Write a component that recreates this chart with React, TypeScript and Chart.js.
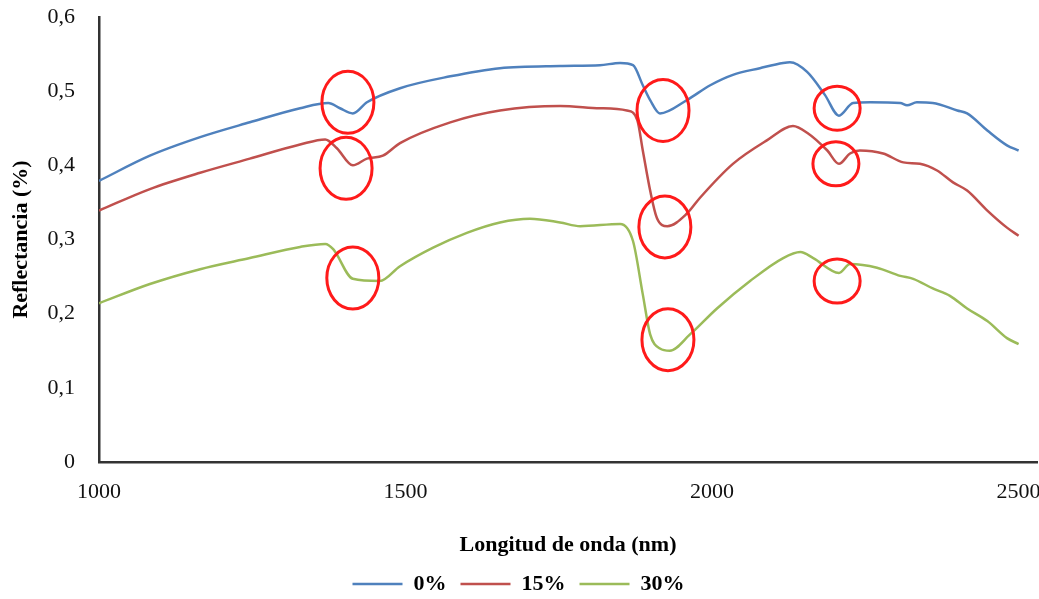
import React, { useEffect, useRef } from "react";
import { Chart, registerables } from "chart.js";

Chart.register(...registerables);

// Wavelength (nm) sample positions for each series
const blueX = [1000, 1083, 1165, 1246, 1328, 1374, 1393, 1414, 1437, 1491, 1573, 1654, 1752, 1817, 1850, 1871, 1887, 1899, 1915, 1959, 1997, 2034, 2078, 2116, 2127, 2155, 2184, 2207, 2230, 2258, 2307, 2318, 2334, 2360, 2400, 2416, 2449, 2481, 2500];
const blueY = [0.379, 0.413, 0.438, 0.458, 0.477, 0.484, 0.477, 0.470, 0.485, 0.504, 0.520, 0.531, 0.534, 0.535, 0.538, 0.535, 0.508, 0.488, 0.470, 0.488, 0.508, 0.522, 0.531, 0.538, 0.539, 0.526, 0.495, 0.467, 0.484, 0.485, 0.484, 0.481, 0.485, 0.484, 0.474, 0.470, 0.447, 0.427, 0.420];

const redX = [1000, 1083, 1165, 1246, 1328, 1369, 1388, 1414, 1437, 1463, 1491, 1573, 1654, 1752, 1817, 1861, 1878, 1887, 1899, 1910, 1927, 1959, 1980, 2034, 2090, 2132, 2155, 2188, 2207, 2225, 2241, 2279, 2312, 2339, 2367, 2393, 2416, 2449, 2481, 2500];
const redY = [0.339, 0.368, 0.390, 0.409, 0.428, 0.435, 0.423, 0.400, 0.409, 0.413, 0.430, 0.458, 0.474, 0.480, 0.477, 0.474, 0.461, 0.420, 0.366, 0.329, 0.318, 0.335, 0.356, 0.402, 0.434, 0.453, 0.444, 0.420, 0.402, 0.416, 0.420, 0.416, 0.404, 0.402, 0.393, 0.377, 0.366, 0.339, 0.316, 0.305];

const greenX = [1000, 1083, 1165, 1246, 1328, 1369, 1382, 1414, 1458, 1491, 1545, 1600, 1654, 1703, 1752, 1785, 1850, 1871, 1887, 1899, 1915, 1931, 1964, 2008, 2062, 2116, 2144, 2165, 2207, 2225, 2269, 2307, 2328, 2360, 2388, 2416, 2449, 2481, 2500];
const greenY = [0.214, 0.240, 0.260, 0.275, 0.290, 0.294, 0.287, 0.247, 0.244, 0.264, 0.289, 0.309, 0.323, 0.328, 0.323, 0.318, 0.321, 0.298, 0.226, 0.172, 0.153, 0.150, 0.172, 0.207, 0.244, 0.275, 0.283, 0.275, 0.255, 0.267, 0.262, 0.251, 0.247, 0.234, 0.224, 0.207, 0.190, 0.167, 0.159];

const seriesNames = ["0%", "15%", "30%"];

const xTickValues = [1000, 1500, 2000, 2500];
const xTickLabels = ["1000", "1500", "2000", "2500"];
const yTickValues = [0, 0.1, 0.2, 0.3, 0.4, 0.5, 0.6];
const yTickLabels = ["0", "0,1", "0,2", "0,3", "0,4", "0,5", "0,6"];

// Highlight ellipses (centre in data units) and whether they are large
const circleX = [1406, 1403, 1414, 1920, 1923, 1928, 2204, 2202, 2204];
const circleY = [0.485, 0.396, 0.248, 0.474, 0.317, 0.165, 0.477, 0.402, 0.244];
const circleBig = [true, true, true, true, true, true, false, false, false];

const SERIF = "'Liberation Serif', 'DejaVu Serif', serif";

const toPoints = (xs: number[], ys: number[]) => xs.map((x, i) => ({ x, y: ys[i] }));

const circlesPlugin = {
  id: "circles",
  afterDatasetsDraw(chart: any) {
    const { ctx, scales } = chart;
    ctx.save();
    ctx.strokeStyle = "#ff1a1a";
    ctx.lineWidth = 3;
    circleX.forEach((cx, i) => {
      const px = scales.x.getPixelForValue(cx);
      const py = scales.y.getPixelForValue(circleY[i]);
      const rx = circleBig[i] ? 26 : 23;
      const ry = circleBig[i] ? 31 : 22;
      ctx.beginPath();
      ctx.ellipse(px, py, rx, ry, 0, 0, Math.PI * 2);
      ctx.stroke();
    });
    ctx.restore();
  },
};

export default function App() {
  const canvasRef = useRef<HTMLCanvasElement | null>(null);

  useEffect(() => {
    if (!canvasRef.current) return;
    const colors = ["#4F81BD", "#C0504D", "#9BBB59"];
    const data = [toPoints(blueX, blueY), toPoints(redX, redY), toPoints(greenX, greenY)];
    const chart = new Chart(canvasRef.current, {
      type: "line",
      data: {
        datasets: data.map((d, i) => ({
          label: seriesNames[i],
          data: d,
          borderColor: colors[i],
          backgroundColor: colors[i],
          borderWidth: 2.5,
          pointRadius: 0,
          pointStyle: "line",
          cubicInterpolationMode: "monotone" as const,
          fill: false,
        })),
      },
      options: {
        animation: false,
        responsive: false,
        maintainAspectRatio: false,
        layout: { padding: { top: 17, right: 2, left: 0, bottom: -6 } },
        plugins: {
          tooltip: { enabled: false },
          legend: {
            position: "bottom",
            labels: {
              usePointStyle: true,
              pointStyle: "line",
              pointStyleWidth: 50,
              padding: 14,
              color: "#000",
              font: { family: SERIF, size: 22, weight: "bold" },
            },
          },
        },
        scales: {
          x: {
            type: "linear",
            min: 1000,
            max: 2530,
            afterBuildTicks: (axis: any) => {
              axis.ticks = xTickValues.map((v) => ({ value: v }));
            },
            afterFit: (axis: any) => {
              axis.paddingLeft = 0;
              axis.paddingRight = 0;
              axis.height = 97;
            },
            grid: { display: false, drawTicks: false },
            border: { display: true, color: "#333", width: 2.5 },
            ticks: {
              padding: 17,
              color: "#111",
              maxRotation: 0,
              font: { family: SERIF, size: 22 },
              callback: (v: any) => {
                const idx = xTickValues.indexOf(Number(v));
                return idx >= 0 ? xTickLabels[idx] : "";
              },
            },
            title: {
              display: true,
              text: "Longitud de onda (nm)",
              color: "#000",
              font: { family: SERIF, size: 22, weight: "bold" },
              padding: { top: 0, bottom: 0 },
            },
          },
          y: {
            type: "linear",
            min: 0,
            max: 0.6,
            afterBuildTicks: (axis: any) => {
              axis.ticks = yTickValues.map((v) => ({ value: v }));
            },
            afterFit: (axis: any) => {
              axis.paddingTop = 0;
              axis.paddingBottom = 0;
              axis.width = 99;
            },
            grid: { display: false, drawTicks: false },
            border: { display: true, color: "#333", width: 2.5 },
            ticks: {
              padding: 24,
              color: "#111",
              font: { family: SERIF, size: 22 },
              callback: (v: any) => {
                const idx = yTickValues.findIndex((t) => Math.abs(t - Number(v)) < 1e-9);
                return idx >= 0 ? yTickLabels[idx] : "";
              },
            },
            title: {
              display: true,
              text: "Reflectancia (%)",
              color: "#000",
              font: { family: SERIF, size: 22, weight: "bold" },
              padding: { top: 8, bottom: 0 },
            },
          },
        },
      },
      plugins: [circlesPlugin],
    });
    return () => chart.destroy();
  }, []);

  return (
    <div style={{ position: "fixed", left: 0, top: 0, width: 1039, height: 599, background: "#fff" }}>
      <canvas ref={canvasRef} width={1039} height={599} style={{ width: 1039, height: 599 }} />
    </div>
  );
}
